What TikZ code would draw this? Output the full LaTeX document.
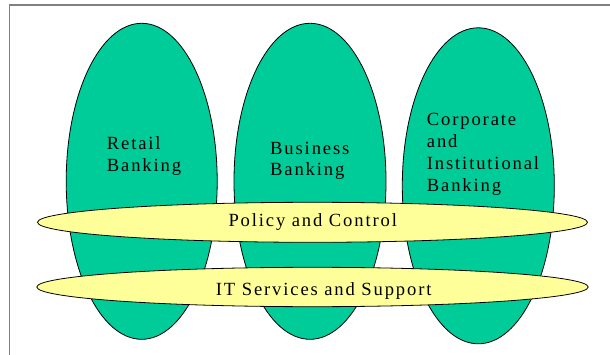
\documentclass[tikz,border=0pt]{standalone}
\usepackage{fontspec}
\setmainfont{Liberation Serif}[LetterSpace=10]
\definecolor{unitgreen}{RGB}{0,204,153}
\definecolor{layeryellow}{RGB}{255,255,153}
\definecolor{framegray}{RGB}{128,128,128}
\begin{document}
\begin{tikzpicture}[x=1pt,y=-1pt,
  unit/.style={draw=black,line width=0.8pt,fill=unitgreen},
  layer/.style={draw=black,line width=0.8pt,fill=layeryellow},
  lbl/.style={anchor=base west,inner sep=0pt,font=\fontsize{18.6}{22}\selectfont}]
\useasboundingbox (0,0) rectangle (610,355);
% frame (top and left edges)
\draw[framegray,line width=1.2pt] (9.5,355) -- (9.5,5) -- (610,5);
% business units
\path[unit] (141.7,181.3) ellipse [x radius=75.5,y radius=158];
\path[unit] (310,181.3) ellipse [x radius=76,y radius=158];
\path[unit] (478.3,185.8) ellipse [x radius=76,y radius=158];
% cross-cutting layers
\path[layer] (312.5,222.3) ellipse [x radius=275,y radius=20];
\path[layer] (312.5,287) ellipse [x radius=275.7,y radius=19.7];
% labels
\node[lbl] (r1) at (106.7,149.3) {Retail};
\node[lbl] (r2) at (106.7,171.7) {Banking};
\node[lbl] (b1) at (270,154.3) {Business};
\node[lbl] (b2) at (270,176) {Banking};
\node[lbl] (c1) at (426.7,126) {Corporate};
\node[lbl] (c2) at (426.7,147.6) {and};
\node[lbl] (c3) at (426.7,169.8) {Institutional};
\node[lbl] (c4) at (426.7,191.7) {Banking};
\node[lbl] (pc) at (228.3,226.7) {Policy and Control};
\node[lbl] (it) at (215.7,295) {IT Services and Support};
\end{tikzpicture}
\end{document}
